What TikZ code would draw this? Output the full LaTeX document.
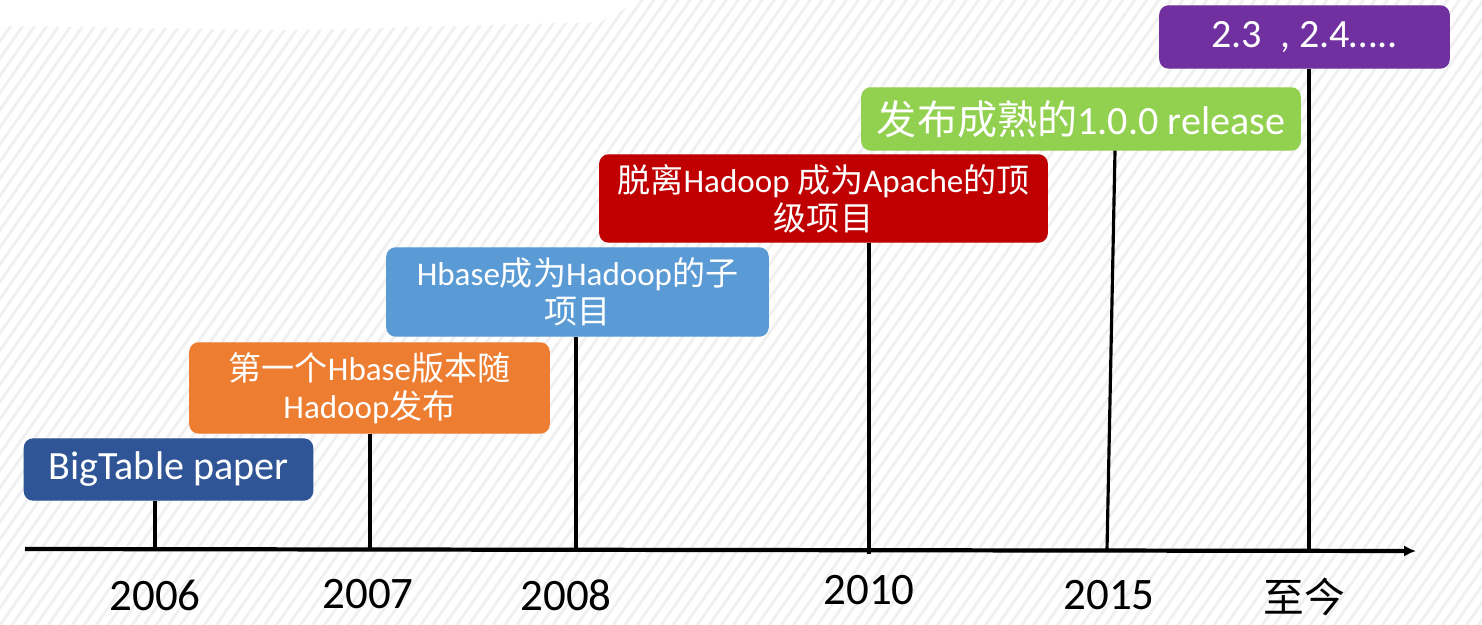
\documentclass[tikz,border=0pt]{standalone}
\usepackage{fontspec}
\setmainfont{Carlito}
\newfontfamily\zhfont{Noto Sans CJK SC}
\newcommand{\zh}[1]{{\zhfont #1}}
\usepackage{tikz}
\usetikzlibrary{positioning,arrows.meta,patterns.meta}
\usepackage{xcolor}
\definecolor{bigblue}{HTML}{2F5597}
\definecolor{hborange}{HTML}{ED7D31}
\definecolor{skyblue}{HTML}{5B9BD5}
\definecolor{apred}{HTML}{C00000}
\definecolor{relgreen}{HTML}{92D050}
\definecolor{nowpurple}{HTML}{7030A0}

\begin{document}
\begin{tikzpicture}[x=0.01cm, y=-0.01cm,
  box/.style={rounded corners=2.5pt, text=white, align=center, inner sep=0pt},
  small/.style={font=\fontsize{9.4}{10.8}\selectfont},
  big/.style={font=\fontsize{11.4}{13}\selectfont},
  stem/.style={line width=0.9pt},
  axis/.style={->, >={Latex[length=3.4pt,width=3.2pt]}, line width=1.2pt},
  year/.style={inner sep=0pt, font=\fontsize{12.8}{14}\selectfont}
]
  \useasboundingbox (0,0) rectangle (1482,625);
  % striped background
  \fill[white] (0,0) rectangle (1482,625);
  \fill[pattern={Lines[angle=55, distance=2.8pt, line width=0.8pt]}, pattern color=black!6]
    (0,0) rectangle (1482,625);
  \fill[white] (0,0) -- (640,0) -- (600,22) -- (300,30) -- (0,26) -- cycle;

  % axis and ticks
  \coordinate (axl) at (25,549);
  \coordinate (axr) at (1416,551);
  \coordinate (t2006) at (155,550);
  \coordinate (t2007) at (370,550);
  \coordinate (t2008) at (576,550);
  \coordinate (t2010) at (869,550);
  \coordinate (t2015) at (1107,550);
  \coordinate (tnow)  at (1309,550);
  \draw[axis] (axl) -- (axr);

  % event boxes
  \node[box, big, fill=bigblue, draw=bigblue, minimum width=2.88cm, minimum height=0.61cm]
    (bt) at (168.5,469.5) {BigTable paper};
  \node[box, small, fill=hborange, draw=hborange, minimum width=3.59cm, minimum height=0.9cm]
    (first) at (369.5,388) {\zh{第一个}Hbase\zh{版本随}\\Hadoop\zh{发布}};
  \node[box, small, fill=skyblue, draw=skyblue, minimum width=3.81cm, minimum height=0.88cm]
    (sub) at (577.5,292) {Hbase\zh{成为}Hadoop\zh{的子}\\\zh{项目}};
  \node[box, small, fill=apred, draw=apred, minimum width=4.47cm, minimum height=0.87cm]
    (top) at (823.5,198.5) {\zh{脱离}Hadoop \zh{成为}Apache\zh{的顶}\\\zh{级项目}};
  \node[box, big, fill=relgreen, draw=relgreen, minimum width=4.38cm, minimum height=0.62cm]
    (rel) at (1081,119) {\zh{发布成熟的}1.0.0 release};
  \node[box, big, fill=nowpurple, draw=nowpurple, minimum width=2.89cm, minimum height=0.62cm]
    (now) at (1304.5,37) {2.3\ \ , 2.4…..};

  % stems
  \draw[stem] (bt.south -| t2006) -- (t2006);
  \draw[stem] (first.south -| t2007) -- (t2007);
  \draw[stem] (sub.south -| t2008) -- (t2008);
  \draw[stem] (top.south -| t2010) -- ([yshift=-0.04cm]t2010);
  \draw[stem] ([xshift=0.08cm]rel.south -| t2015) -- (t2015);
  \draw[stem] (now.south -| tnow) -- (tnow);

  % years
  \node[year, below=0.29cm of t2006] (y2006) {2006};
  \node[year, below=0.29cm of t2007, xshift=-0.02cm] (y2007) {2007};
  \node[year, below=0.29cm of t2008, xshift=-0.1cm] (y2008) {2008};
  \node[year, below=0.25cm of t2010] (y2010) {2010};
  \node[year, below=0.30cm of t2015, xshift=0.02cm] (y2015) {2015};
  \node[year, below=0.27cm of tnow, xshift=-0.05cm, font=\fontsize{11.6}{13}\selectfont] (ynow) {\zh{至今}};
\end{tikzpicture}
\end{document}
